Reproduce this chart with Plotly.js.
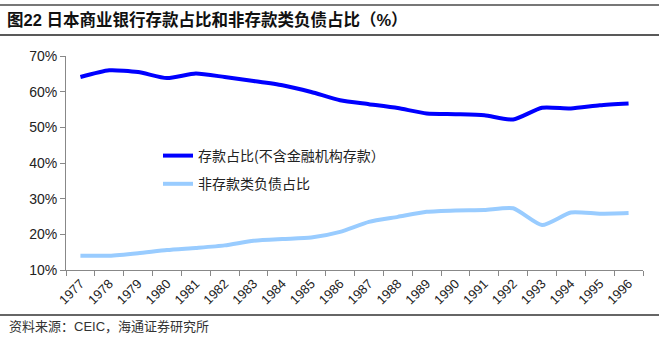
<!DOCTYPE html>
<html>
<head>
<meta charset="utf-8">
<script src="https://cdn.plot.ly/plotly-3.0.1.min.js"></script>
<style>html,body{margin:0;padding:0;background:#fff;}#chart{width:659px;height:344px;}</style>
</head>
<body>
<div id="chart"></div>
<script>
const years = ['1977','1978','1979','1980','1981','1982','1983','1984','1985','1986','1987','1988','1989','1990','1991','1992','1993','1994','1995','1996'];
const depositShare = [64.1,66.0,65.5,63.8,65.1,64.1,63.0,61.8,59.9,57.6,56.5,55.4,53.9,53.7,53.4,52.2,55.5,55.3,56.2,56.7];
const nonDepositShare = [14.0,14.0,14.7,15.6,16.2,16.9,18.2,18.7,19.1,20.7,23.5,24.9,26.3,26.7,26.8,27.3,22.6,26.1,25.8,26.0];
const seriesNames = ['存款占比(不含金融机构存款）','非存款类负债占比'];
const yTicks = [10,20,30,40,50,60,70];
const yTickText = ['10%','20%','30%','40%','50%','60%','70%'];

const cjk = 'Liberation Sans, Arial, Noto Sans CJK SC, sans-serif';
const traces = [
  {x: years, y: depositShare, name: seriesNames[0], type: 'scatter', mode: 'lines',
   line: {color: '#0000FF', width: 4, shape: 'spline', smoothing: 0.6}, legendgroup: 'a'},
  {x: years, y: nonDepositShare, name: seriesNames[1], type: 'scatter', mode: 'lines',
   line: {color: '#99CCFF', width: 4, shape: 'spline', smoothing: 0.6}, legendgroup: 'b'}
];

const L = 66, R = 643, T = 56, B = 270;
const px = v => (v - L) / (R - L);
const py = v => (B - v) / (B - T);

const layout = {
  width: 659, height: 344,
  margin: {l: L, r: 659 - R, t: T, b: 344 - B},
  paper_bgcolor: '#fff', plot_bgcolor: '#fff',
  font: {family: cjk, color: '#222'},
  title: {text: '<b>图22 日本商业银行存款占比和非存款类负债占比（%）</b>', x: 7/659, xanchor: 'left', xref: 'container',
          y: 1 - 20/344, yanchor: 'middle', yref: 'container',
          font: {family: 'Liberation Sans, Arial, Noto Sans CJK SC, sans-serif', size: 16.5, color: '#111'}},
  xaxis: {type: 'category', tickson: 'boundaries', ticks: 'outside', ticklen: 5, tickcolor: '#888',
          showline: true, linecolor: '#888', linewidth: 1, showgrid: false, zeroline: false,
          tickangle: -45, tickfont: {size: 13, family: 'Liberation Sans, Arial, sans-serif', color: '#222'},
          range: [-0.5, years.length - 0.5]},
  yaxis: {range: [10, 70], tickvals: yTicks, ticktext: yTickText, ticks: 'outside', ticklen: 5, tickcolor: '#888',
          showline: true, linecolor: '#888', linewidth: 1, showgrid: false, zeroline: false,
          tickfont: {size: 14, family: 'Liberation Sans, Arial, sans-serif', color: '#222'}},
  showlegend: true,
  legend: {x: px(158), y: py(140), xanchor: 'left', yanchor: 'top', bgcolor: 'rgba(0,0,0,0)',
           traceorder: 'grouped', tracegroupgap: 7,
           font: {size: 14, family: 'Noto Sans CJK SC, sans-serif', color: '#222'}},
  shapes: [
    {type: 'line', xref: 'paper', yref: 'paper', x0: px(0), x1: px(659), y0: py(5), y1: py(5), line: {color: '#777', width: 2}},
    {type: 'line', xref: 'paper', yref: 'paper', x0: px(0), x1: px(659), y0: py(35), y1: py(35), line: {color: '#222', width: 1.5}},
    {type: 'line', xref: 'paper', yref: 'paper', x0: px(0), x1: px(659), y0: py(315), y1: py(315), line: {color: '#333', width: 1.5}}
  ],
  annotations: [
    {text: '资料来源：CEIC，海通证券研究所', xref: 'paper', yref: 'paper', x: px(7), y: py(326),
     xanchor: 'left', yanchor: 'middle', showarrow: false,
     font: {size: 13, family: 'Liberation Sans, Arial, Noto Sans CJK SC, sans-serif', color: '#333'}}
  ]
};
Plotly.newPlot('chart', traces, layout, {staticPlot: true, displayModeBar: false});
</script>
</body>
</html>
